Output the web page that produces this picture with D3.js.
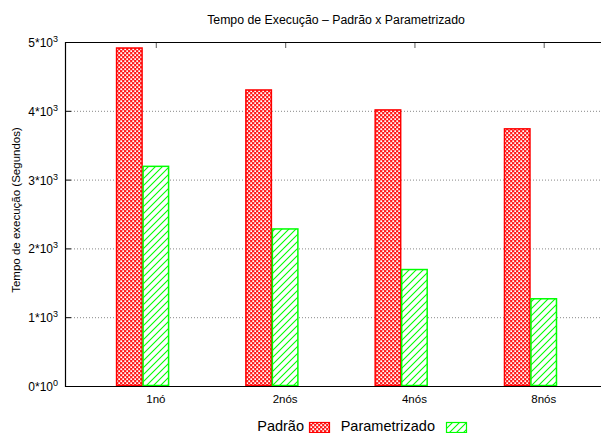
<!DOCTYPE html>
<html>
<head>
<meta charset="utf-8">
<script src="https://cdn.jsdelivr.net/npm/d3@7"></script>
<style>
  html, body { margin: 0; padding: 0; background: #fff; }
  svg { display: block; font-family: "Liberation Sans", Arial, sans-serif; }
</style>
</head>
<body>
<svg id="chart" width="601" height="433"></svg>
<script>
// Execution time per cluster size, default vs parametrized configuration
const categories = ["1nó", "2nós", "4nós", "8nós"];
const padrao = [4920, 4310, 4020, 3745];
const parametrizado = [3200, 2290, 1700, 1275];
const yTickValues = [0, 1000, 2000, 3000, 4000, 5000];
const seriesNames = ["Padrão", "Parametrizado"];

const svg = d3.select("#chart");
const margin = { left: 65, top: 42, bottom: 386 };

// x in group units: group i is centred on i, each bar spans barW
const x = d3.scaleLinear().domain([-0.6, 3.6]).range([margin.left, margin.left + 4.2 * 129.3]);
const y = d3.scaleLinear().domain([0, 5000]).range([margin.bottom, margin.top]);
const barW = 0.205;
const rightEdge = 640;

// Fill patterns: red crosshatch (checker look) and green diagonal hatch
const defs = svg.append("defs");
const cross = defs.append("pattern")
  .attr("id", "crossFill").attr("patternUnits", "userSpaceOnUse")
  .attr("width", 4).attr("height", 4);
cross.append("rect").attr("width", 4).attr("height", 4).style("fill", "#ff1a1a");
cross.append("rect").attr("x", 0.3).attr("y", 0.3).attr("width", 1.8).attr("height", 1.8).style("fill", "#ffffff");
cross.append("rect").attr("x", 2.3).attr("y", 2.3).attr("width", 1.8).attr("height", 1.8).style("fill", "#ffffff");

const hatch = defs.append("pattern")
  .attr("id", "hatchFill").attr("patternUnits", "userSpaceOnUse")
  .attr("width", 7).attr("height", 7);
hatch.append("rect").attr("width", 7).attr("height", 7).style("fill", "#ffffff");
hatch.append("path").attr("d", "M0,7 L7,0 M-1,1 L1,-1 M6,8 L8,6")
  .style("stroke", "#00ff00").style("stroke-width", 1.1).style("fill", "none");

// Grid lines
svg.append("g").selectAll("line").data(yTickValues.filter(v => v > 0 && v < 5000)).join("line")
  .attr("x1", margin.left + 6).attr("x2", rightEdge)
  .attr("y1", d => y(d) + 0.5).attr("y2", d => y(d) + 0.5)
  .attr("stroke", "#888").attr("stroke-width", 1).attr("stroke-dasharray", "1,2");

// Y ticks and labels
const yAxis = svg.append("g");
yAxis.selectAll("line").data(yTickValues).join("line")
  .attr("x1", margin.left).attr("x2", margin.left + 6)
  .attr("y1", d => y(d) + 0.5).attr("y2", d => y(d) + 0.5)
  .attr("stroke", "#000").attr("stroke-width", 1);
const yLabels = yAxis.selectAll("text").data(yTickValues).join("text")
  .attr("x", margin.left - 7).attr("y", d => y(d) + 5)
  .attr("text-anchor", "end").attr("font-size", 12).attr("fill", "#000");
yLabels.append("tspan").text(d => (d === 0 ? "0" : String(d / 1000)) + "*10");
yLabels.append("tspan").attr("dy", -5).attr("font-size", 9).text(d => d === 0 ? "0" : "3");

// Category ticks (top and bottom), centred on the second bar of each group
const tickX = (d, i) => x(i + barW / 2);
svg.append("g").selectAll("line").data(categories).join("line")
  .attr("x1", (d, i) => tickX(d, i) + 0.5).attr("x2", (d, i) => tickX(d, i) + 0.5)
  .attr("y1", margin.top).attr("y2", margin.top + 6)
  .attr("stroke", "#777").attr("stroke-width", 1.2);
svg.append("g").selectAll("line").data(categories).join("line")
  .attr("x1", (d, i) => tickX(d, i) + 0.5).attr("x2", (d, i) => tickX(d, i) + 0.5)
  .attr("y1", margin.bottom).attr("y2", margin.bottom - 6)
  .attr("stroke", "#777").attr("stroke-width", 1.2);

// Bars
const bars = svg.append("g");
bars.selectAll("rect.padrao").data(padrao).join("rect")
  .attr("class", "padrao")
  .attr("x", (d, i) => x(i - barW) + 0.5)
  .attr("y", d => y(d) + 0.5)
  .attr("width", x(barW) - x(0) - 1)
  .attr("height", d => y(0) - y(d) - 1)
  .style("fill", "url(#crossFill)").style("stroke", "#ff0000").style("stroke-width", 1.5);
bars.selectAll("rect.param").data(parametrizado).join("rect")
  .attr("class", "param")
  .attr("x", (d, i) => x(i) + 0.5)
  .attr("y", d => y(d) + 0.5)
  .attr("width", x(barW) - x(0) - 1)
  .attr("height", d => y(0) - y(d) - 1)
  .style("fill", "url(#hatchFill)").style("stroke", "#00ff00").style("stroke-width", 1.5);

// Frame
svg.append("path")
  .attr("d", `M${rightEdge},${margin.top + 0.5} H${margin.left + 0.5} V${margin.bottom + 0.5} H${rightEdge}`)
  .attr("fill", "none").attr("stroke", "#000").attr("stroke-width", 1.2);

// Category labels
svg.append("g").selectAll("text").data(categories).join("text")
  .attr("x", (d, i) => tickX(d, i)).attr("y", 403)
  .attr("text-anchor", "middle").attr("font-size", 11.5).attr("fill", "#000")
  .text(d => d);

// Title
svg.append("text").attr("x", 336).attr("y", 24)
  .attr("text-anchor", "middle").attr("font-size", 12.3).attr("fill", "#000")
  .text("Tempo de Execução – Padrão x Parametrizado");

// Y axis title
svg.append("text")
  .attr("transform", `translate(20,${(margin.top + margin.bottom) / 2 - 4}) rotate(-90)`)
  .attr("text-anchor", "middle").attr("font-size", 11.5).attr("fill", "#000")
  .text("Tempo de execução (Segundos)");

// Legend
const legend = svg.append("g");
const legendItems = [
  { name: seriesNames[0], textEnd: 304, boxX: 309.5, fill: "url(#crossFill)", stroke: "#ff0000" },
  { name: seriesNames[1], textEnd: 435, boxX: 446.5, fill: "url(#hatchFill)", stroke: "#00ff00" }
];
legendItems.forEach(it => {
  legend.append("text").attr("x", it.textEnd).attr("y", 431)
    .attr("text-anchor", "end").attr("font-size", 14.5).attr("fill", "#000").text(it.name);
  legend.append("rect").attr("x", it.boxX).attr("y", 422.5).attr("width", 20).attr("height", 10)
    .style("fill", it.fill).style("stroke", it.stroke).style("stroke-width", 1.2);
});
</script>
</body>
</html>
